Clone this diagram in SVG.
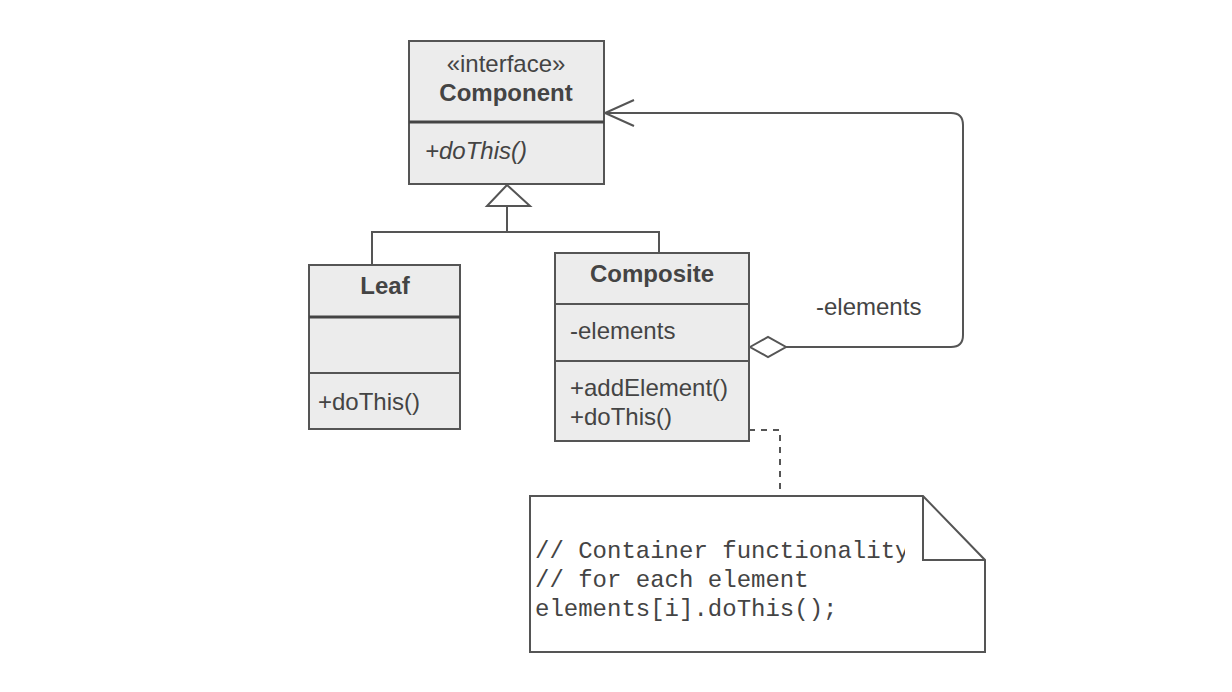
<svg xmlns="http://www.w3.org/2000/svg" width="1232" height="692" viewBox="0 0 1232 692">
<style>
.box{fill:#ececec;stroke:#555;stroke-width:2}
.div{stroke:#555;stroke-width:2;fill:none}
.thick{stroke:#444;stroke-width:3;fill:none}
.t{font-family:"Liberation Sans",Arial,sans-serif;font-size:24px;fill:#444}
.b{font-weight:bold}
.c{text-anchor:middle}
.mono{font-family:"Liberation Mono","Courier New",monospace;font-size:24px;fill:#444}
.ln{stroke:#555;stroke-width:2;fill:none}
</style>
<defs>
<clipPath id="noteclip"><rect x="530" y="496" width="375" height="156"/></clipPath>
</defs>
<rect width="1232" height="692" fill="#fff"/>
<g id="connectors">
<polyline class="ln" points="507,206 507,232"/>
<polyline class="ln" points="372,265 372,232 659,232 659,253"/>
<polygon points="507,185 487,206 530,206" fill="#fff" stroke="#555" stroke-width="2"/>
<path class="ln" d="M786,347 H951 Q963,347 963,335 V125 Q963,113 951,113 H605"/>
<polyline class="ln" points="634,100 605,113 634,126"/>
<polygon points="750,347 768,337 786,347 768,357" fill="#fff" stroke="#555" stroke-width="2"/>
<polyline class="ln" points="749,430 780,430 780,496" stroke-dasharray="6,6"/>
<text class="t" x="816" y="315">-elements</text>
</g>
<g id="component">
<rect class="box" x="409" y="41" width="195" height="143"/>
<line class="thick" x1="409" y1="122" x2="604" y2="122"/>
<text class="t c" x="506" y="72">«interface»</text>
<text class="t b c" x="506" y="101">Component</text>
<text class="t" x="425" y="159" font-style="italic">+doThis()</text>
</g>
<g id="leaf">
<rect class="box" x="309" y="265" width="151" height="164"/>
<line class="thick" x1="309" y1="317" x2="460" y2="317"/>
<line class="div" x1="309" y1="373" x2="460" y2="373"/>
<text class="t b c" x="385" y="294">Leaf</text>
<text class="t" x="318" y="410">+doThis()</text>
</g>
<g id="composite">
<rect class="box" x="555" y="253" width="194" height="188"/>
<line class="div" x1="555" y1="304" x2="749" y2="304"/>
<line class="div" x1="555" y1="361" x2="749" y2="361"/>
<text class="t b c" x="652" y="282">Composite</text>
<text class="t" x="570" y="339">-elements</text>
<text class="t" x="570" y="396">+addElement()</text>
<text class="t" x="570" y="425">+doThis()</text>
</g>
<g id="note">
<path d="M530,496 H923 L985,560 V652 H530 Z" fill="#fff" stroke="#555" stroke-width="2"/>
<polyline class="ln" points="923,496 923,560 985,560"/>
<g clip-path="url(#noteclip)">
<text class="mono" x="535" y="558">// Container functionality</text>
</g>
<text class="mono" x="535" y="587">// for each element</text>
<text class="mono" x="535" y="616">elements[i].doThis();</text>
</g>
</svg>
